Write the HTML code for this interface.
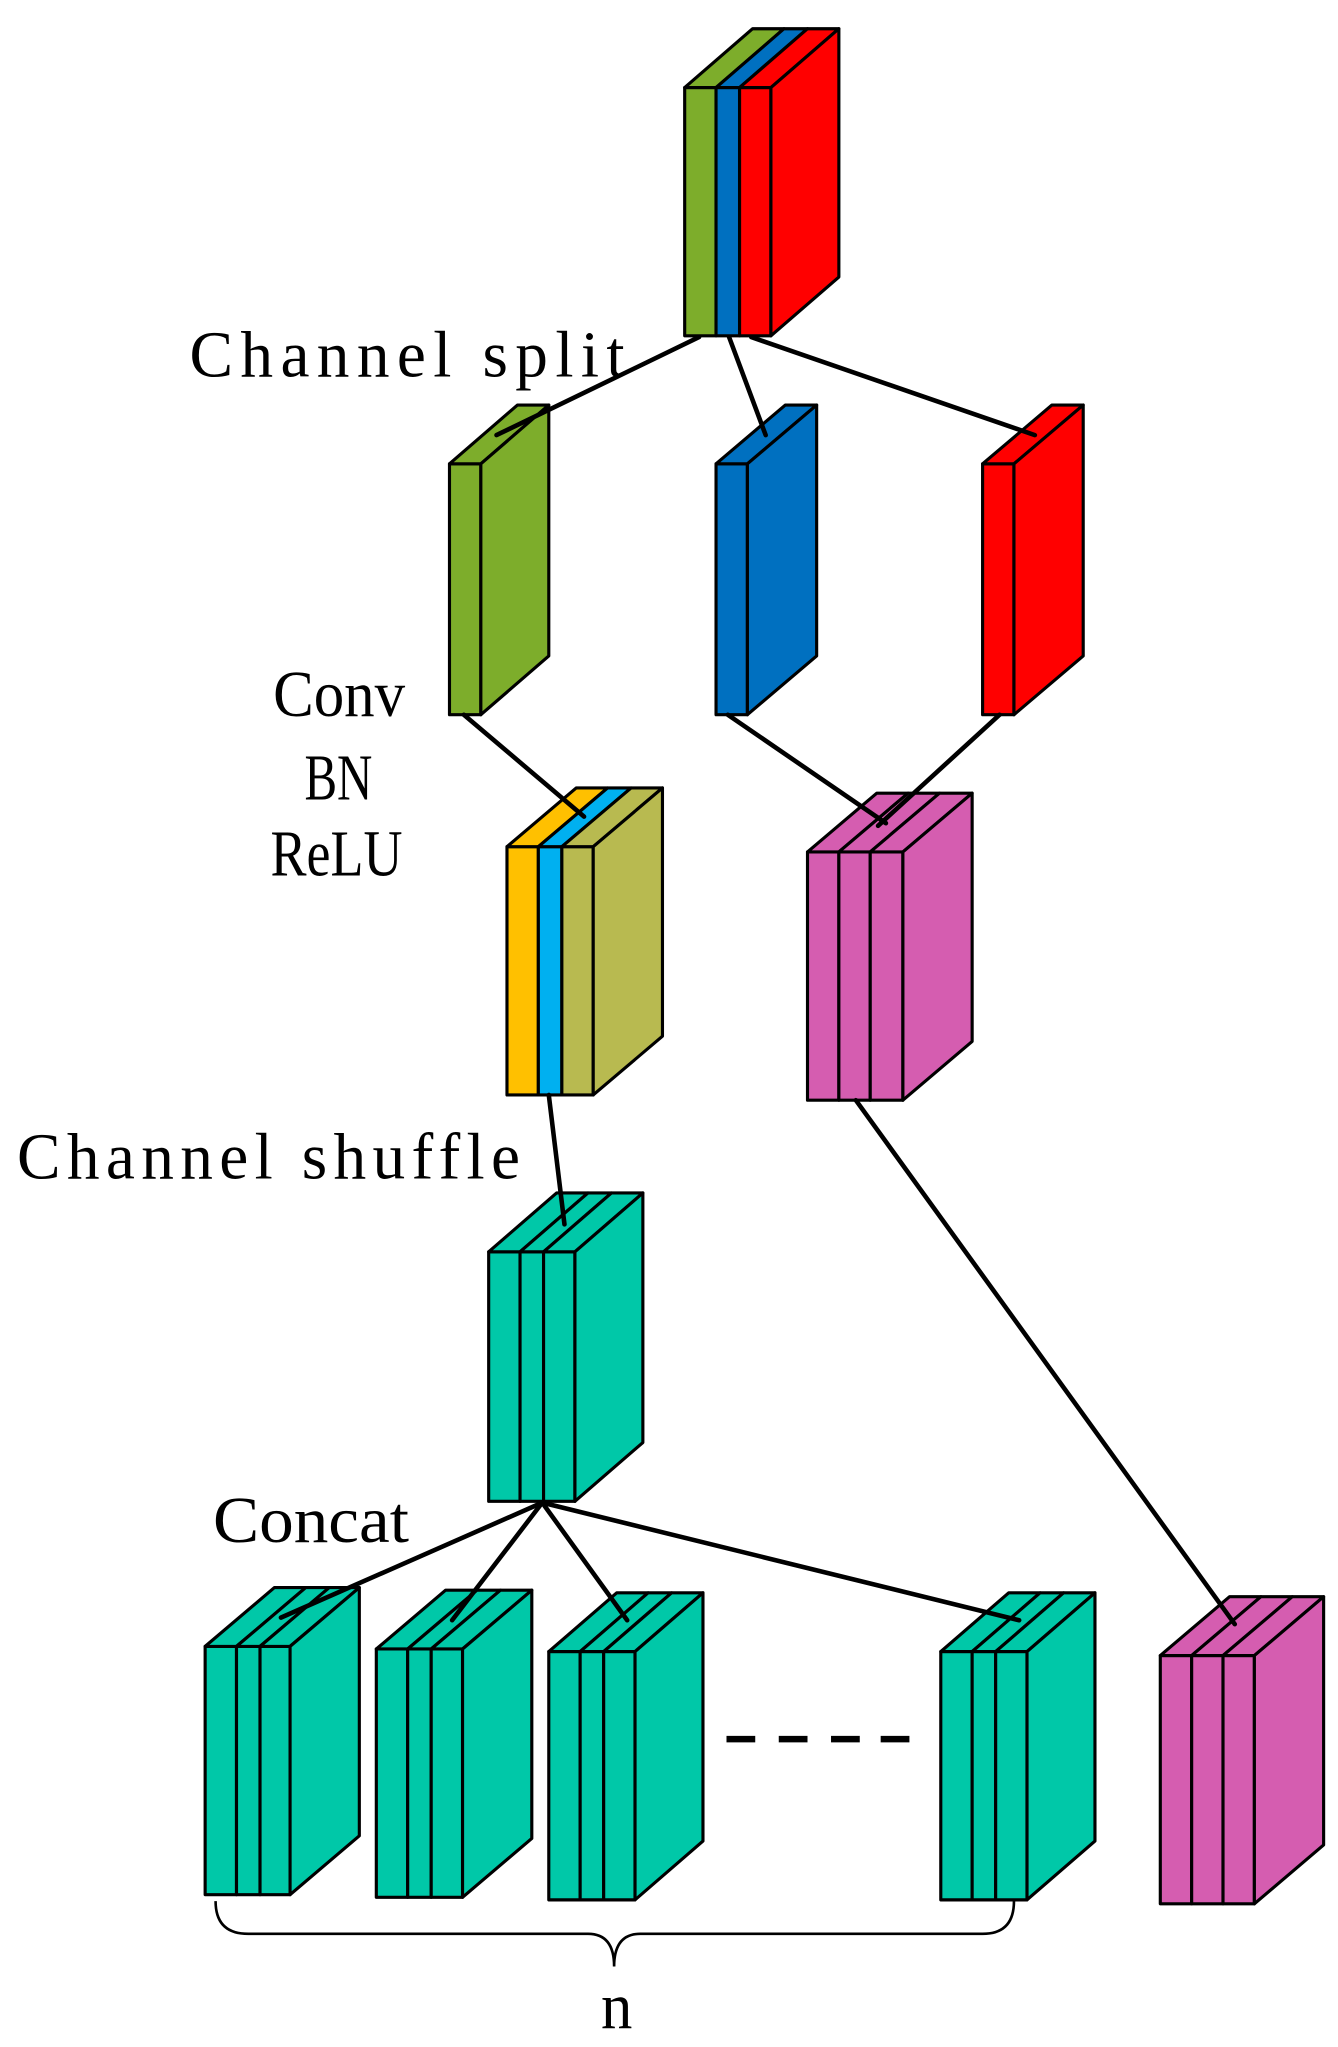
<!DOCTYPE html>
<html><head><meta charset="utf-8"><style>
html,body{margin:0;padding:0;background:#fff;}
svg{display:block;}
text{font-family:"Liberation Serif",serif;fill:#000;}
</style></head><body>
<svg id="s" xmlns="http://www.w3.org/2000/svg" width="1338" height="2047" viewBox="0 0 1024 1566.6" preserveAspectRatio="none">
<g id="boxes"></g>
<g stroke="#000" stroke-width="3.5" stroke-linecap="round" fill="none">
<line x1="535" y1="258" x2="380" y2="333"/>
<line x1="558" y1="258" x2="586" y2="333"/>
<line x1="575" y1="258" x2="792" y2="333"/>
<line x1="355" y1="547" x2="447" y2="625"/>
<line x1="557" y1="547" x2="678" y2="630"/>
<line x1="765" y1="547" x2="672" y2="632"/>
<line x1="420" y1="838" x2="432" y2="937"/>
<line x1="655" y1="842" x2="945" y2="1243"/>
<line x1="415" y1="1150" x2="215" y2="1238"/>
<line x1="415" y1="1150" x2="346" y2="1240"/>
<line x1="415" y1="1150" x2="480" y2="1240"/>
<line x1="415" y1="1150" x2="780" y2="1240"/>
</g>
<g stroke="#000" stroke-width="5">
<line x1="556" y1="1331" x2="578" y2="1331"/>
<line x1="596" y1="1331" x2="618" y2="1331"/>
<line x1="636" y1="1331" x2="658" y2="1331"/>
<line x1="674" y1="1331" x2="696" y2="1331"/>
</g>
<path d="M165,1455 Q165,1480 190,1480 L450,1480 Q470,1480 470,1505 Q470,1480 490,1480 L752,1480 Q776,1480 776,1455" stroke="#000" stroke-width="2" fill="none"/>
<text x="145" y="288" font-size="50" textLength="333" lengthAdjust="spacing">Channel split</text>
<text x="209" y="548" font-size="50" textLength="101" lengthAdjust="spacingAndGlyphs">Conv</text>
<text x="233" y="612" font-size="50" textLength="52" lengthAdjust="spacingAndGlyphs">BN</text>
<text x="207" y="670" font-size="50" textLength="101" lengthAdjust="spacingAndGlyphs">ReLU</text>
<text x="13" y="902" font-size="50" textLength="385" lengthAdjust="spacing">Channel shuffle</text>
<text x="163" y="1180" font-size="50" textLength="150" lengthAdjust="spacingAndGlyphs">Concat</text>
<text x="460" y="1552" font-size="50" textLength="24" lengthAdjust="spacingAndGlyphs">n</text>
</svg>
<script>
var g=document.getElementById('boxes'),NS='http://www.w3.org/2000/svg';
function poly(pts,fill){var p=document.createElementNS(NS,'polygon');p.setAttribute('points',pts.map(function(a){return a.join(',')}).join(' '));p.setAttribute('fill',fill);p.setAttribute('stroke','#000');p.setAttribute('stroke-width','2.4');p.setAttribute('stroke-linejoin','round');g.appendChild(p);}
function box(xs,yt,yb,cols,dx,dy){dx=dx||52;dy=dy||-45;var n=xs.length-1;
for(var i=0;i<n;i++){poly([[xs[i],yt],[xs[i+1],yt],[xs[i+1],yb],[xs[i],yb]],cols[i]);
poly([[xs[i],yt],[xs[i]+dx,yt+dy],[xs[i+1]+dx,yt+dy],[xs[i+1],yt]],cols[i]);}
var xn=xs[n];poly([[xn,yt],[xn+dx,yt+dy],[xn+dx,yb+dy],[xn,yb]],cols[n-1]);}
var G='#7DAD2B',B='#0070C0',R='#FF0000',Y='#FFC000',C='#00B0F0',O='#B8BA50',P='#D55DB0',T='#00C8A8';
box([524,548,566,590],67,257,[G,B,R]);
box([344,368],355,547,[G]);
box([548,572],355,547,[B],53);
box([752,776],355,547,[R],53);
box([388,412,430,454],648,838,[Y,C,O],53);
box([618,642,666,691],652,842,[P,P,P],53);
box([374,398,416,440],958,1149,[T,T,T]);
box([157,181,199,222],1260,1450,[T,T,T],53);
box([288,312,330,354],1262,1452,[T,T,T],53);
box([420,444,462,486],1264,1454,[T,T,T],52);
box([720,744,762,786],1264,1454,[T,T,T],52);
box([888,912,936,960],1267,1457,[P,P,P],53);
</script>
</body></html>
